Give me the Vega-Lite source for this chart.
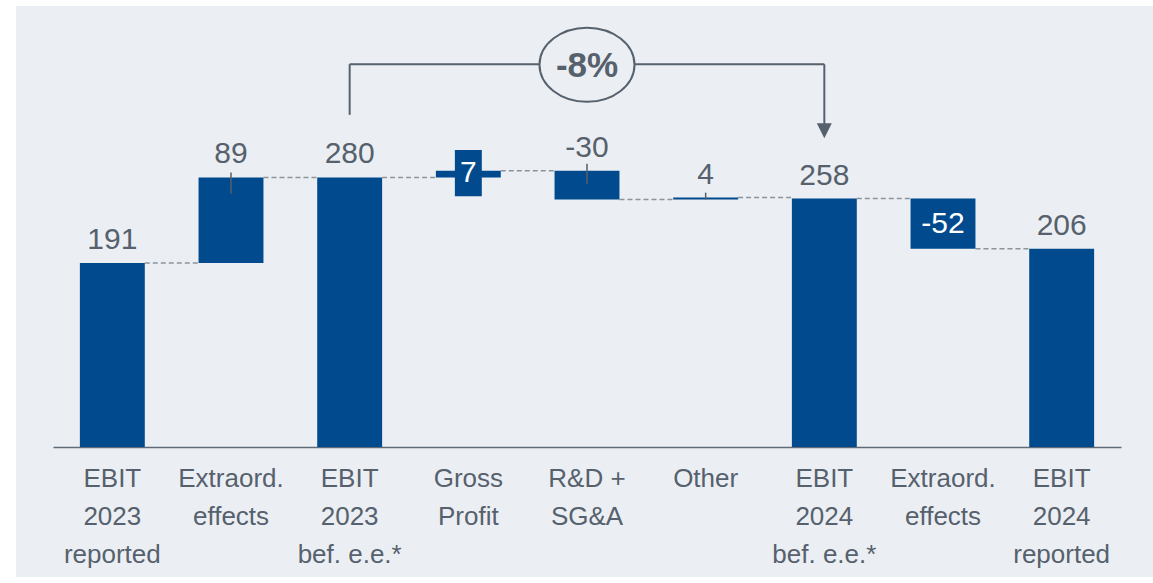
{
  "$schema": "https://vega.github.io/schema/vega-lite/v6.json",
  "width": 1137,
  "height": 571,
  "autosize": {"type": "none"},
  "padding": {"left": 16, "top": 6, "right": 0, "bottom": 6},
  "background": "#ffffff",
  "config": {
    "view": {"stroke": null, "fill": "#ebeff3"},
    "font": "Liberation Sans",
    "text": {"font": "Liberation Sans"}
  },
  "data": {
    "values": [
      {"cat": "EBIT|2023|reported", "start": 0, "end": 191, "label": "191", "next": "Extraord.|effects", "lab": "above"},
      {"cat": "Extraord.|effects", "start": 191, "end": 280, "label": "89", "next": "EBIT|2023|bef. e.e.*", "lab": "above"},
      {"cat": "EBIT|2023|bef. e.e.*", "start": 0, "end": 280, "label": "280", "next": "Gross|Profit", "lab": "above"},
      {"cat": "Gross|Profit", "start": 280, "end": 287, "label": "7", "next": "R&D +|SG&A", "lab": "box"},
      {"cat": "R&D +|SG&A", "start": 287, "end": 257, "label": "-30", "next": "Other", "lab": "aboveneg"},
      {"cat": "Other", "start": 257, "end": 259, "label": "4", "next": "EBIT|2024|bef. e.e.*", "lab": "above"},
      {"cat": "EBIT|2024|bef. e.e.*", "start": 0, "end": 258, "label": "258", "next": "Extraord.|effects ", "lab": "above"},
      {"cat": "Extraord.|effects ", "start": 258, "end": 206, "label": "-52", "next": "EBIT|2024|reported", "lab": "inside"},
      {"cat": "EBIT|2024|reported", "start": 0, "end": 206, "label": "206", "next": null, "lab": "above"}
    ]
  },
  "encoding": {
    "x": {
      "field": "cat",
      "type": "nominal",
      "sort": null,
      "scale": {"range": [37, 1105], "paddingInner": 0.453, "paddingOuter": 0.2265},
      "axis": {
        "title": null,
        "labelAngle": 0,
        "ticks": false,
        "offset": -130,
        "domainColor": "#5f6b78",
        "domainWidth": 1.5,
        "labelColor": "#56616d",
        "labelFont": "Liberation Sans",
        "labelFontSize": 26,
        "labelLineHeight": 38,
        "labelPadding": 18,
        "labelExpr": "split(datum.label, '|')"
      }
    }
  },
  "layer": [
    {
      "transform": [{"filter": "datum.next != null"}],
      "mark": {"type": "rule", "color": "#8d949c", "strokeWidth": 1.5, "strokeDash": [5, 3]},
      "encoding": {
        "x": {"field": "cat", "type": "nominal", "sort": null, "bandPosition": 1},
        "x2": {"field": "next", "bandPosition": 0},
        "y": {"field": "end", "type": "quantitative", "scale": {"domain": [-135, 458], "nice": false, "zero": false}, "axis": null}
      }
    },
    {
      "mark": {"type": "bar", "color": "#004a8d"},
      "encoding": {
        "y": {"field": "start", "type": "quantitative"},
        "y2": {"field": "end"}
      }
    },
    {
      "transform": [{"filter": "datum.lab == 'box'"}],
      "mark": {"type": "bar", "color": "#004a8d", "width": {"band": 0.415}},
      "encoding": {
        "y": {"datum": 308.5, "type": "quantitative"},
        "y2": {"datum": 260.5}
      }
    },
    {
      "transform": [{"filter": "datum.cat == 'Extraord.|effects'"}],
      "mark": {"type": "rule", "color": "#56616d", "strokeWidth": 1.5, "yOffset": -5, "y2Offset": 16},
      "encoding": {
        "y": {"field": "end", "type": "quantitative"},
        "y2": {"field": "end"}
      }
    },
    {
      "transform": [{"filter": "datum.lab == 'aboveneg'"}],
      "mark": {"type": "rule", "color": "#56616d", "strokeWidth": 1.5, "yOffset": -7, "y2Offset": 13},
      "encoding": {
        "y": {"field": "start", "type": "quantitative"},
        "y2": {"field": "start"}
      }
    },
    {
      "transform": [{"filter": "datum.cat == 'Other'"}],
      "mark": {"type": "rule", "color": "#56616d", "strokeWidth": 1.5, "yOffset": -5},
      "encoding": {
        "y": {"field": "end", "type": "quantitative"},
        "y2": {"field": "start"}
      }
    },
    {
      "transform": [{"filter": "datum.lab == 'above'"}],
      "mark": {"type": "text", "fontSize": 30, "color": "#56616d", "baseline": "alphabetic", "dy": -14},
      "encoding": {
        "y": {"field": "end", "type": "quantitative"},
        "text": {"field": "label"}
      }
    },
    {
      "transform": [{"filter": "datum.lab == 'aboveneg'"}],
      "mark": {"type": "text", "fontSize": 30, "color": "#56616d", "baseline": "alphabetic", "dy": -14},
      "encoding": {
        "y": {"field": "start", "type": "quantitative"},
        "text": {"field": "label"}
      }
    },
    {
      "transform": [{"filter": "datum.lab == 'box'"}],
      "mark": {"type": "text", "fontSize": 30, "color": "#ffffff", "baseline": "middle"},
      "encoding": {
        "y": {"datum": 284.5, "type": "quantitative"},
        "text": {"field": "label"}
      }
    },
    {
      "transform": [{"filter": "datum.lab == 'inside'"}],
      "mark": {"type": "text", "fontSize": 30, "color": "#ffffff", "baseline": "middle"},
      "encoding": {
        "y": {"datum": 232, "type": "quantitative"},
        "text": {"field": "label"}
      }
    },
    {
      "data": {"values": [{}]},
      "mark": {"type": "rule", "color": "#56616d", "strokeWidth": 2},
      "encoding": {
        "x": {"datum": "EBIT|2023|bef. e.e.*", "type": "nominal", "bandPosition": 0.5},
        "y": {"datum": 345, "type": "quantitative"},
        "y2": {"datum": 397.5}
      }
    },
    {
      "data": {"values": [{}]},
      "mark": {"type": "rule", "color": "#56616d", "strokeWidth": 2},
      "encoding": {
        "x": {"datum": "EBIT|2023|bef. e.e.*", "type": "nominal", "bandPosition": 0.5},
        "x2": {"datum": "EBIT|2024|bef. e.e.*", "bandPosition": 0.5},
        "y": {"datum": 397.5, "type": "quantitative"}
      }
    },
    {
      "data": {"values": [{}]},
      "mark": {"type": "rule", "color": "#56616d", "strokeWidth": 2},
      "encoding": {
        "x": {"datum": "EBIT|2024|bef. e.e.*", "type": "nominal", "bandPosition": 0.5},
        "y": {"datum": 397.5, "type": "quantitative"},
        "y2": {"datum": 332}
      }
    },
    {
      "data": {"values": [{}]},
      "mark": {"type": "point", "shape": "M-1,-1L1,-1L0,1Z", "size": 225, "filled": true, "color": "#56616d", "opacity": 1},
      "encoding": {
        "x": {"datum": "EBIT|2024|bef. e.e.*", "type": "nominal", "bandPosition": 0.5},
        "y": {"datum": 328.5, "type": "quantitative"}
      }
    },
    {
      "data": {"values": [{}]},
      "mark": {"type": "point", "shape": "M-1,0A1,0.78,0,1,0,1,0A1,0.78,0,1,0,-1,0Z", "size": 9025, "filled": true, "fill": "#ebeff3", "stroke": "#56616d", "strokeWidth": 2, "opacity": 1},
      "encoding": {
        "x": {"datum": "R&D +|SG&A", "type": "nominal", "bandPosition": 0.5},
        "y": {"datum": 397, "type": "quantitative"}
      }
    },
    {
      "data": {"values": [{}]},
      "mark": {"type": "text", "text": "-8%", "fontSize": 35, "fontWeight": "bold", "color": "#56616d", "baseline": "middle", "dy": 1},
      "encoding": {
        "x": {"datum": "R&D +|SG&A", "type": "nominal", "bandPosition": 0.5},
        "y": {"datum": 397, "type": "quantitative"}
      }
    }
  ]
}
